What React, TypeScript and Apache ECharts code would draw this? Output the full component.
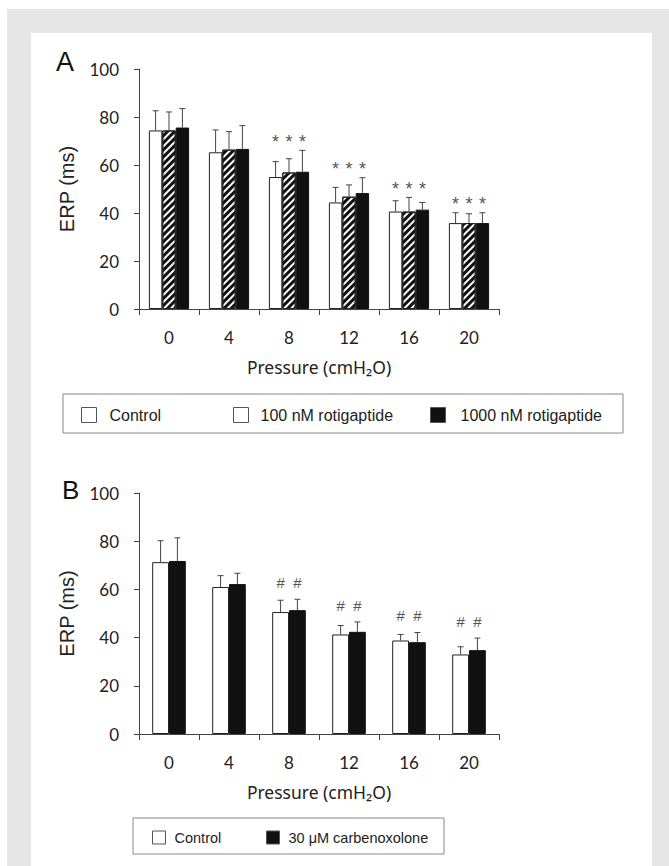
import React, { useEffect, useRef } from "react";
import * as echarts from "echarts";

// ---- data ----
const pressures = ["0", "4", "8", "12", "16", "20"];
const yTicks = [0, 20, 40, 60, 80, 100];

const seriesNamesA = ["Control", "100 nM rotigaptide", "1000 nM rotigaptide"];
const controlA = [74.4, 65.3, 55.0, 44.4, 40.6, 35.8];
const rotig100A = [74.4, 66.4, 56.9, 46.8, 40.6, 35.8];
const rotig1000A = [75.6, 66.7, 57.2, 48.3, 41.4, 35.8];
const controlSdA = [8.2, 9.3, 6.4, 6.3, 4.5, 4.3];
const rotig100SdA = [7.7, 7.5, 5.7, 4.9, 5.9, 3.9];
const rotig1000SdA = [7.9, 9.7, 8.9, 6.4, 3.0, 4.3];
const sigA = [false, false, true, true, true, true];

const seriesNamesB = ["Control", "30 μM carbenoxolone"];
const controlB = [71.3, 61.0, 50.6, 41.3, 38.8, 33.0];
const carbB = [71.8, 62.2, 51.4, 42.4, 38.1, 34.8];
const controlSdB = [8.9, 4.7, 4.9, 3.7, 2.5, 3.2];
const carbSdB = [9.6, 4.5, 4.5, 4.1, 4.0, 5.0];
const sigB = [false, false, true, true, true, true];

const TICK_FONT = "Lato, 'Open Sans', sans-serif";
const SANS = "'Liberation Sans', Arial, sans-serif";

function makeErrSeries(
  means: number[][],
  sds: number[][],
  sig: boolean[],
  mark: string,
  gapFrac: number,
  markOffset: number,
  markSize: number,
  axisIdx: number
) {
  return {
    type: "custom",
    xAxisIndex: axisIdx,
    yAxisIndex: axisIdx,
    silent: true,
    z: 5,
    encode: { x: 0, y: 1 },
    data: pressures.map((_, i) => [i, 0]),
    renderItem: (params: any, api: any) => {
      const i = api.value(0);
      const band = api.size([1, 0])[0];
      const n = means.length;
      const bw = (band * (1 - gapFrac)) / n;
      const xc = api.coord([i, 0])[0];
      const children: any[] = [];
      let maxTop = 0;
      for (let k = 0; k < n; k++) {
        const cx = xc + (k - (n - 1) / 2) * bw;
        const top = means[k][i] + sds[k][i];
        maxTop = Math.max(maxTop, top);
        const yb = api.coord([i, means[k][i]])[1];
        const yt = api.coord([i, top])[1];
        children.push({
          type: "line",
          shape: { x1: cx, y1: yb, x2: cx, y2: yt },
          style: { stroke: "#444", lineWidth: 1 },
        });
        children.push({
          type: "line",
          shape: { x1: cx - 3, y1: yt, x2: cx + 3, y2: yt },
          style: { stroke: "#444", lineWidth: 1 },
        });
      }
      if (sig[i]) {
        const ym = api.coord([i, maxTop + markOffset])[1];
        for (let k = 0; k < n; k++) {
          const cx = xc + (k - (n - 1) / 2) * bw;
          children.push({
            type: "text",
            x: cx,
            y: ym,
            style: {
              text: mark,
              fill: "#555",
              fontSize: markSize,
              fontFamily: SANS,
              align: "center",
              verticalAlign: "middle",
              textAlign: "center",
              textVerticalAlign: "middle",
            },
          });
        }
      }
      return { type: "group", children };
    },
  };
}

function xAxisCfg(gridIndex: number) {
  return {
    type: "category",
    gridIndex,
    data: pressures,
    boundaryGap: true,
    axisLine: { show: true, lineStyle: { color: "#444", width: 1 } },
    axisTick: { show: true, length: 6, inside: false, interval: 0, alignWithLabel: false, lineStyle: { color: "#444" } },
    axisLabel: { fontSize: 17, color: "#222", fontFamily: TICK_FONT, margin: 20, interval: 0 },
    splitLine: { show: false },
    name: "Pressure (cmH₂O)",
    nameLocation: "middle",
    nameGap: 49,
    nameTextStyle: { fontSize: 17.5, color: "#222", fontFamily: "'Noto Sans', sans-serif" },
  };
}

function yAxisCfg(gridIndex: number) {
  return {
    type: "value",
    gridIndex,
    min: yTicks[0],
    max: yTicks[yTicks.length - 1],
    interval: yTicks[1] - yTicks[0],
    axisLine: { show: true, lineStyle: { color: "#444", width: 1 } },
    axisTick: { show: true, length: 5, inside: false, lineStyle: { color: "#444" } },
    axisLabel: { fontSize: 17, color: "#222", fontFamily: TICK_FONT, margin: 20 },
    splitLine: { show: false },
    name: "ERP (ms)",
    nameLocation: "middle",
    nameGap: 62,
    nameRotate: 90,
    nameTextStyle: { fontSize: 20, color: "#222", fontFamily: SANS },
  };
}

const hatchDecal = {
  symbol: "rect",
  symbolSize: 1,
  color: "#111",
  dashArrayX: [1, 0],
  dashArrayY: [2.4, 2],
  rotation: -Math.PI / 4,
};

function legendItem(name: string, left: number, top: number, size: number, fontSize: number, pad: number, extra?: any) {
  return {
    show: true,
    left,
    top,
    padding: 0,
    orient: "horizontal",
    itemWidth: size,
    itemHeight: size,
    icon: "rect",
    selectedMode: false,
    itemStyle: { borderColor: "#555", borderWidth: 1 },
    textStyle: { fontSize, color: "#222", fontFamily: SANS, padding: [0, 0, 0, pad] },
    data: [Object.assign({ name }, extra || {})],
  };
}

export default function App() {
  const ref = useRef<HTMLDivElement>(null);
  useEffect(() => {
    if (!ref.current) return;
    const chart = echarts.init(ref.current, undefined, { renderer: "svg" });
    const gapA = 0.33;
    const gapB = 0.44;
    const option: any = {
      animation: false,
      backgroundColor: "#ffffff",
      graphic: [
        { type: "rect", z: -100, shape: { x: 7, y: 9, width: 662, height: 857 }, style: { fill: "#e6e6e6" }, silent: true },
        { type: "rect", z: -99, shape: { x: 31, y: 33, width: 621, height: 833 }, style: { fill: "#ffffff" }, silent: true },
        { type: "text", x: 56, y: 48, style: { text: "A", fontSize: 27, fill: "#111", fontFamily: SANS } },
        { type: "text", x: 62, y: 477, style: { text: "B", fontSize: 26, fill: "#111", fontFamily: SANS } },
        { type: "rect", z: -50, shape: { x: 63, y: 394, width: 560, height: 39 }, style: { fill: "#fff", stroke: "#888", lineWidth: 1 }, silent: true },
        { type: "rect", z: -50, shape: { x: 133, y: 818, width: 311, height: 36 }, style: { fill: "#fff", stroke: "#888", lineWidth: 1 }, silent: true },
      ],
      legend: [
        legendItem(seriesNamesA[0], 81, 407, 15, 16, 8),
        legendItem(seriesNamesA[1], 233, 407, 15, 16, 7, { itemStyle: { color: "#fff", decal: "none" } }),
        legendItem(seriesNamesA[2], 430, 407, 15, 16, 10),
        legendItem(seriesNamesB[0], 152, 830, 13, 14.5, 4),
        legendItem(seriesNamesB[1], 266, 830, 13, 14.5, 4),
      ],
      grid: [
        { left: 139, top: 69, width: 360, height: 240 },
        { left: 139, top: 493, width: 360, height: 241 },
      ],
      xAxis: [xAxisCfg(0), xAxisCfg(1)],
      yAxis: [yAxisCfg(0), yAxisCfg(1)],
      series: [
        {
          name: seriesNamesA[0], type: "bar", xAxisIndex: 0, yAxisIndex: 0, data: controlA,
          barGap: "0%", barCategoryGap: gapA * 100 + "%",
          itemStyle: { color: "#ffffff", borderColor: "#222", borderWidth: 1 },
        },
        {
          name: seriesNamesA[1], type: "bar", xAxisIndex: 0, yAxisIndex: 0, data: rotig100A,
          barGap: "0%", barCategoryGap: gapA * 100 + "%",
          itemStyle: { color: "#ffffff", borderColor: "#222", borderWidth: 1, decal: hatchDecal },
        },
        {
          name: seriesNamesA[2], type: "bar", xAxisIndex: 0, yAxisIndex: 0, data: rotig1000A,
          barGap: "0%", barCategoryGap: gapA * 100 + "%",
          itemStyle: { color: "#111111", borderColor: "#111", borderWidth: 1 },
        },
        makeErrSeries([controlA, rotig100A, rotig1000A], [controlSdA, rotig100SdA, rotig1000SdA], sigA, "*", gapA, 3.5, 18, 0),
        {
          name: seriesNamesB[0], type: "bar", xAxisIndex: 1, yAxisIndex: 1, data: controlB,
          barGap: "0%", barCategoryGap: gapB * 100 + "%",
          itemStyle: { color: "#ffffff", borderColor: "#222", borderWidth: 1 },
        },
        {
          name: seriesNamesB[1], type: "bar", xAxisIndex: 1, yAxisIndex: 1, data: carbB,
          barGap: "0%", barCategoryGap: gapB * 100 + "%",
          itemStyle: { color: "#111111", borderColor: "#111", borderWidth: 1 },
        },
        makeErrSeries([controlB, carbB], [controlSdB, carbSdB], sigB, "#", gapB, 7, 15, 1),
      ],
    };
    chart.setOption(option);
    return () => chart.dispose();
  }, []);
  return (
    <div
      ref={ref}
      style={{ position: "fixed", left: 0, top: 0, width: 669, height: 866 }}
    />
  );
}
